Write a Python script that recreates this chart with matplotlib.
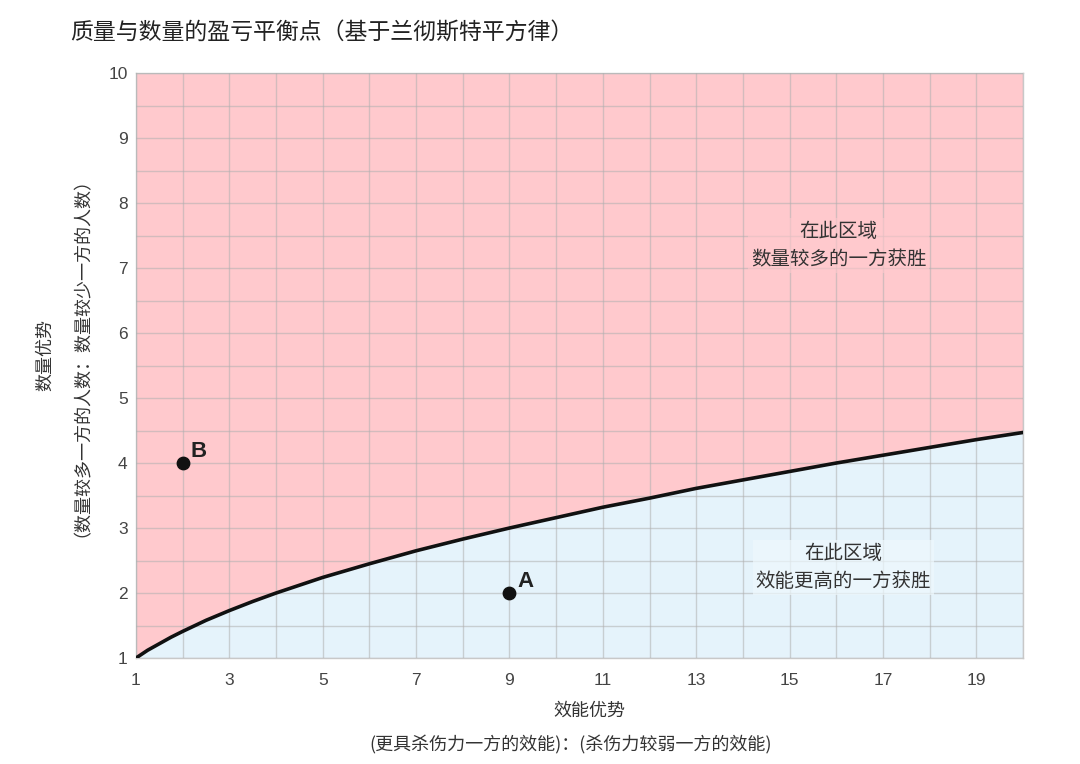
import matplotlib
matplotlib.use("Agg")
import matplotlib.pyplot as plt

plt.rcParams['font.family'] = ['Noto Sans CJK SC', 'DejaVu Sans']

# Data (boundary curve)
eff_x = [1, 1.25, 1.5, 1.75, 2, 2.5, 3, 3.5, 4, 4.5, 5, 6, 7, 8, 9, 10, 11, 12,
         13, 14, 15, 16, 17, 18, 19, 20]
num_y = [1.0, 1.12, 1.22, 1.32, 1.41, 1.58, 1.73, 1.87, 2.0, 2.12, 2.24, 2.45,
         2.65, 2.83, 3.0, 3.16, 3.32, 3.46, 3.61, 3.74, 3.87, 4.0, 4.12, 4.24,
         4.36, 4.47]
point_names = ['A', 'B']
point_x = [9, 2]
point_y = [2, 4]
xtick_vals = [1, 3, 5, 7, 9, 11, 13, 15, 17, 19]
ytick_vals = [1, 2, 3, 4, 5, 6, 7, 8, 9, 10]

title = '质量与数量的盈亏平衡点（基于兰彻斯特平方律）'
xlabel1 = '效能优势'
xlabel2 = '(更具杀伤力一方的效能)：(杀伤力较弱一方的效能)'
ylabel1 = '数量优势'
ylabel2 = '（数量较多一方的人数：数量较少一方的人数）'
text_top = '在此区域\n数量较多的一方获胜'
text_bot = '在此区域\n效能更高的一方获胜'

pink = '#FFC9CD'
blue = '#E5F3FB'

fig = plt.figure(figsize=(10.8, 7.64), dpi=100)
ax = fig.add_axes([0.1259, 0.1387, 0.8213, 0.7657])
ax.set_xlim(1, 20)
ax.set_ylim(1, 10)

ax.fill_between(eff_x, num_y, 10, color=pink, zorder=0, linewidth=0)
ax.fill_between(eff_x, 1, num_y, color=blue, zorder=0, linewidth=0)

ax.set_xticks(xtick_vals)
ax.set_yticks(ytick_vals)
ax.set_xticks(range(1, 21), minor=True)
ax.set_yticks([v / 2 for v in range(2, 21)], minor=True)
ax.grid(which='both', color='#b0b0b0', alpha=0.55, linewidth=1.0, zorder=1)
ax.set_axisbelow(False)

ax.plot(eff_x, num_y, color='#111111', linewidth=2.6, zorder=3,
        solid_capstyle='round', solid_joinstyle='round')

ax.tick_params(which='both', length=0, labelsize=12.5, colors='#444444')
ax.tick_params(axis='x', pad=11)
ax.tick_params(axis='y', pad=6)
for lab in ax.get_xticklabels() + ax.get_yticklabels():
    lab.set_family(['Liberation Sans', 'DejaVu Sans'])
for s in ax.spines.values():
    s.set_color('#c8c8c8')
    s.set_linewidth(1.0)

ax.scatter(point_x, point_y, s=80, color='#111111', zorder=4)
for n, px, py in zip(point_names, point_x, point_y):
    ax.annotate(n, (px, py), xytext=(6, 4), textcoords='offset points',
                fontsize=16, fontweight='bold', color='#222222',
                family=['Liberation Sans', 'DejaVu Sans'], zorder=5)

ax.text(16.05, 7.35, text_top, ha='center', va='center', fontsize=14,
        color='#333333', linespacing=1.45, zorder=5,
        bbox=dict(boxstyle='square,pad=0.15', facecolor=pink, edgecolor='none', alpha=0.6))
ax.text(16.15, 2.39, text_bot, ha='center', va='center', fontsize=14,
        color='#333333', linespacing=1.45, zorder=5,
        bbox=dict(boxstyle='square,pad=0.15', facecolor='#eef8fd', edgecolor='none', alpha=0.7))

fig.text(0.065, 0.958, title, ha='left', va='center', fontsize=16.5, color='#222222')

fig.text(0.5455, 1 - 711 / 764, xlabel1, ha='center', va='center', fontsize=13,
         color='#333333')
fig.text(0.528, 1 - 745 / 764, xlabel2, ha='center', va='center', fontsize=13,
         color='#333333')
fig.text(45 / 1080, 0.535, ylabel1, ha='center', va='center', fontsize=13,
         color='#333333', rotation=90)
fig.text(73 / 1080, 0.545, ylabel2, ha='center', va='center', fontsize=13,
         color='#333333', rotation=90)

fig.savefig('out.png', dpi=100, facecolor='white')
